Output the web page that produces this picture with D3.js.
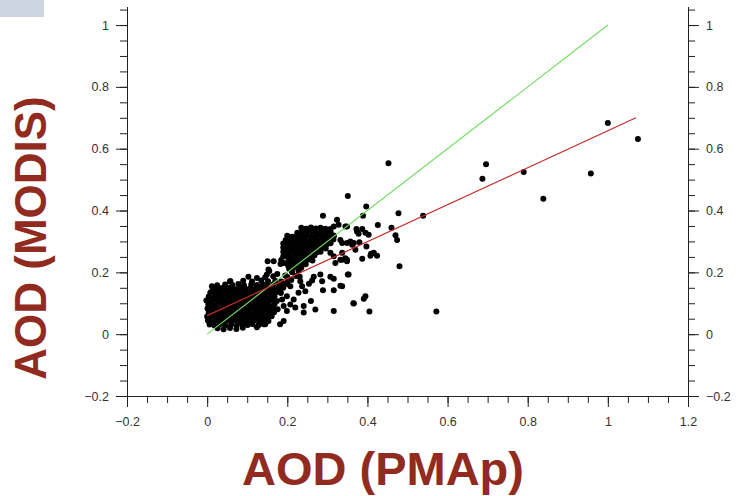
<!DOCTYPE html>
<html>
<head>
<meta charset="utf-8">
<script src="https://cdn.jsdelivr.net/npm/d3@7"></script>
<style>
  body { margin: 0; background: #fff; }
  svg { display: block; }
  .tick text { font-family: "Liberation Sans", Arial, sans-serif; font-size: 12.5px; fill: #333; }
  .axis path, .axis line { stroke: #222; }
  .title { font-family: "Liberation Sans", Arial, sans-serif; font-weight: bold; fill: #922b1f; }
</style>
</head>
<body>
<svg id="chart"></svg>
<script>
const xDomain = [-0.2, 1.2];
const yDomain = [-0.2, 1.06];
const xTicks = [-0.2, 0, 0.2, 0.4, 0.6, 0.8, 1, 1.2];
const yTicks = [-0.2, 0, 0.2, 0.4, 0.6, 0.8, 1];

// 1:1 reference line and the fitted regression line
const oneToOne = [[0, 0], [1, 1]];
const fitLine = [[0, 0.06], [1.07, 0.70]];

// dense low-AOD cloud (PMAp, MODIS)
const lowCloud = [
  [0.026,0.019],[0.041,0.016],[0.057,0.02],[0.073,0.017],[0.089,0.021],[0.124,0.022],
  [0.006,0.031],[0.018,0.028],[0.031,0.032],[0.045,0.029],[0.06,0.031],[0.074,0.028],[0.088,0.032],[0.101,0.03],[0.113,0.033],[0.128,0.029],[0.141,0.032],
  [0.002,0.044],[0.013,0.041],[0.024,0.045],[0.036,0.042],[0.048,0.044],[0.06,0.041],[0.071,0.045],[0.083,0.042],[0.095,0.044],[0.107,0.041],[0.118,0.045],[0.13,0.042],[0.142,0.046],[0.153,0.043],
  [0.0,0.057],[0.011,0.054],[0.022,0.058],[0.034,0.055],[0.046,0.057],[0.057,0.054],[0.069,0.058],[0.08,0.055],[0.092,0.057],[0.104,0.054],[0.115,0.058],[0.127,0.055],[0.139,0.057],[0.151,0.054],[0.161,0.058],
  [0.004,0.07],[0.015,0.067],[0.027,0.071],[0.038,0.068],[0.05,0.07],[0.062,0.067],[0.073,0.071],[0.085,0.068],[0.097,0.07],[0.108,0.067],[0.12,0.071],[0.132,0.068],[0.144,0.07],[0.156,0.067],[0.167,0.071],
  [0.001,0.083],[0.012,0.08],[0.023,0.084],[0.035,0.081],[0.047,0.083],[0.058,0.08],[0.07,0.084],[0.082,0.081],[0.093,0.083],[0.105,0.08],[0.117,0.084],[0.128,0.081],[0.14,0.083],[0.152,0.08],[0.163,0.084],[0.176,0.081],
  [0.003,0.096],[0.015,0.093],[0.026,0.097],[0.038,0.094],[0.05,0.096],[0.061,0.093],[0.073,0.097],[0.085,0.094],[0.096,0.096],[0.108,0.093],[0.12,0.097],[0.131,0.094],[0.143,0.096],[0.155,0.093],[0.168,0.097],
  [-0.002,0.109],[0.011,0.106],[0.023,0.11],[0.034,0.107],[0.046,0.109],[0.058,0.106],[0.069,0.11],[0.081,0.107],[0.093,0.109],[0.104,0.106],[0.116,0.11],[0.128,0.107],[0.139,0.109],[0.151,0.106],[0.162,0.11],[0.174,0.107],
  [0.004,0.122],[0.016,0.119],[0.027,0.123],[0.039,0.12],[0.051,0.122],[0.062,0.119],[0.074,0.123],[0.086,0.12],[0.097,0.122],[0.109,0.119],[0.121,0.123],[0.132,0.12],[0.144,0.122],[0.156,0.119],[0.168,0.123],
  [0.008,0.135],[0.02,0.132],[0.031,0.136],[0.043,0.133],[0.055,0.135],[0.066,0.132],[0.078,0.136],[0.09,0.133],[0.101,0.135],[0.113,0.132],[0.125,0.136],[0.136,0.133],[0.148,0.135],[0.16,0.132],[0.172,0.136],[0.184,0.133],
  [0.014,0.148],[0.026,0.145],[0.037,0.149],[0.049,0.146],[0.061,0.148],[0.072,0.145],[0.084,0.149],[0.096,0.146],[0.107,0.148],[0.119,0.145],[0.131,0.149],[0.142,0.146],[0.154,0.148],[0.166,0.145],[0.178,0.149],
  [0.025,0.158],[0.045,0.161],[0.063,0.159],[0.078,0.162],[0.092,0.158],[0.11,0.161],[0.124,0.159],[0.138,0.162],[0.15,0.158],[0.165,0.161],[0.18,0.159],[0.19,0.163],
  [0.057,0.171],[0.09,0.173],[0.112,0.17],[0.135,0.174],[0.152,0.171],[0.17,0.173],[0.185,0.17],
  [0.103,0.186],[0.145,0.184],[0.165,0.187],[0.2,0.185]
];

// bridge between the two clouds
const bridge = [
  [0.19,0.15],[0.2,0.162],[0.21,0.175],[0.195,0.19],[0.212,0.2],[0.222,0.188],[0.205,0.21],[0.218,0.222],
  [0.2,0.228],[0.185,0.24],[0.19,0.252],[0.183,0.227],[0.228,0.205],[0.235,0.215],[0.175,0.195],[0.166,0.236],
  [0.153,0.209],[0.149,0.193],[0.124,0.182],[0.012,0.155],[0.052,0.15],[0.058,0.171],[0.151,0.236],[0.155,0.204]
];

// second cloud around PMAp 0.2-0.3
const highCloud = [
  [0.235,0.344],[0.247,0.341],[0.259,0.345],[0.271,0.342],[0.283,0.344],[0.295,0.341],
  [0.225,0.328],[0.237,0.332],[0.249,0.329],[0.261,0.331],[0.273,0.328],[0.285,0.332],[0.297,0.329],[0.308,0.331],
  [0.2,0.318],[0.212,0.315],[0.224,0.319],[0.236,0.316],[0.248,0.318],[0.26,0.315],[0.272,0.319],[0.284,0.316],[0.296,0.318],[0.308,0.315],[0.316,0.319],
  [0.196,0.305],[0.208,0.302],[0.22,0.306],[0.232,0.303],[0.244,0.305],[0.256,0.302],[0.268,0.306],[0.28,0.303],[0.292,0.305],[0.304,0.302],[0.315,0.306],
  [0.19,0.293],[0.202,0.29],[0.214,0.294],[0.226,0.291],[0.238,0.293],[0.25,0.29],[0.262,0.294],[0.274,0.291],[0.286,0.293],[0.298,0.29],[0.308,0.294],
  [0.19,0.28],[0.202,0.277],[0.214,0.281],[0.226,0.278],[0.238,0.28],[0.25,0.277],[0.262,0.281],[0.274,0.278],[0.286,0.28],[0.296,0.277],
  [0.19,0.267],[0.202,0.264],[0.214,0.268],[0.226,0.265],[0.238,0.267],[0.25,0.264],[0.262,0.268],[0.274,0.265],[0.283,0.267],
  [0.196,0.254],[0.208,0.251],[0.22,0.255],[0.232,0.252],[0.244,0.254],[0.256,0.251],[0.268,0.255],
  [0.203,0.241],[0.215,0.238],[0.227,0.242],[0.239,0.239],[0.251,0.241],[0.263,0.238],
  [0.21,0.228],[0.222,0.225],[0.234,0.229],[0.246,0.226],[0.215,0.215],[0.23,0.212]
];

// scattered points
const scatter = [
  [0.4525,0.553],[0.696,0.55],[0.687,0.503],[0.79,0.525],[0.839,0.438],[0.9575,0.52],[1.0,0.683],[1.075,0.631],
  [0.539,0.383],[0.572,0.073],[0.48,0.22],
  [0.4775,0.391],[0.46,0.344],[0.47,0.32],[0.474,0.305],[0.397,0.413],[0.389,0.383],[0.426,0.353],[0.405,0.073],
  [0.395,0.123],[0.391,0.115],[0.365,0.1],[0.3725,0.34],[0.378,0.325],[0.395,0.328],[0.403,0.322],[0.38,0.297],
  [0.3975,0.284],[0.387,0.244],[0.409,0.26],[0.416,0.263],[0.424,0.254],[0.37,0.273],[0.351,0.447],[0.349,0.348],
  [0.337,0.295],[0.3575,0.3],[0.362,0.289],[0.337,0.263],[0.345,0.246],[0.337,0.241],[0.349,0.236],[0.351,0.193],
  [0.337,0.155],[0.366,0.099],[0.4075,0.254],
  [0.316,0.179],[0.287,0.171],[0.289,0.142],[0.3325,0.157],[0.316,0.142],[0.262,0.174],[0.254,0.163],[0.2325,0.171],
  [0.237,0.155],[0.245,0.139],[0.228,0.134],[0.259,0.107],[0.27,0.08],[0.316,0.075],[0.241,0.07],[0.199,0.075],
  [0.191,0.043],[0.216,0.1125],[0.2075,0.096],[0.191,0.091],[0.22,0.086],[0.199,0.166],[0.2075,0.155],[0.1825,0.139],
  [0.199,0.123],[0.187,0.1125],[0.145,0.032],[0.182,0.032],[0.241,0.091],
  [0.289,0.383],[0.324,0.37],[0.328,0.354],[0.316,0.348],[0.3075,0.34],[0.2975,0.332],[0.345,0.348],[0.374,0.332],
  [0.387,0.34],[0.316,0.316],[0.3325,0.305],[0.349,0.295],[0.366,0.295],[0.3075,0.263],[0.316,0.252],[0.3325,0.241],
  [0.349,0.241],[0.32,0.23],[0.231,0.186],[0.266,0.186],[0.2825,0.193],[0.3075,0.186],[0.353,0.193],[0.191,0.23],[0.203,0.22]
];

const points = lowCloud.concat(bridge, highCloud, scatter);

const width = 742;
const height = 496;

const svg = d3.select("#chart")
  .attr("width", width)
  .attr("height", height);

svg.append("rect")
  .attr("x", 0).attr("y", 0)
  .attr("width", 44).attr("height", 17)
  .attr("fill", "#cdd5e2");

const x = d3.scaleLinear().domain(xDomain).range([127, 688]);
const y = d3.scaleLinear().domain(yDomain).range([396, 6.5]);

const fmt = d3.format("~g");
const minorX = d3.range(-0.2, 1.2001, 0.05);
const minorY = d3.range(-0.2, 1.0501, 0.05);

// bottom axis
svg.append("g").attr("class", "axis")
  .attr("transform", `translate(0,${y(-0.2)})`)
  .call(d3.axisBottom(x).tickValues(minorX).tickSize(7).tickSizeOuter(0).tickFormat(""));
svg.append("g").attr("class", "axis")
  .attr("transform", `translate(0,${y(-0.2)})`)
  .call(d3.axisBottom(x).tickValues(xTicks).tickSize(11).tickSizeOuter(0).tickPadding(10).tickFormat(fmt));

// left axis
svg.append("g").attr("class", "axis")
  .attr("transform", `translate(${x(-0.2)},0)`)
  .call(d3.axisLeft(y).tickValues(minorY).tickSize(7).tickSizeOuter(0).tickFormat(""));
svg.append("g").attr("class", "axis")
  .attr("transform", `translate(${x(-0.2)},0)`)
  .call(d3.axisLeft(y).tickValues(yTicks).tickSize(11).tickSizeOuter(0).tickPadding(7).tickFormat(fmt));

// right axis
svg.append("g").attr("class", "axis")
  .attr("transform", `translate(${x(1.2)},0)`)
  .call(d3.axisRight(y).tickValues(minorY).tickSize(7).tickSizeOuter(0).tickFormat(""));
svg.append("g").attr("class", "axis")
  .attr("transform", `translate(${x(1.2)},0)`)
  .call(d3.axisRight(y).tickValues(yTicks).tickSize(11).tickSizeOuter(0).tickPadding(7).tickFormat(fmt));

// points
svg.append("g")
  .selectAll("circle")
  .data(points)
  .enter()
  .append("circle")
  .attr("cx", d => x(d[0]))
  .attr("cy", d => y(d[1]))
  .attr("r", 3)
  .attr("fill", "#000");

const line = d3.line().x(d => x(d[0])).y(d => y(d[1]));

svg.append("path")
  .datum(oneToOne)
  .attr("d", line)
  .attr("fill", "none")
  .attr("stroke", "#6fdc5f")
  .attr("stroke-width", 1.1);

svg.append("path")
  .datum(fitLine)
  .attr("d", line)
  .attr("fill", "none")
  .attr("stroke", "#c42a2a")
  .attr("stroke-width", 1.2);

// axis titles
svg.append("text")
  .attr("class", "title")
  .attr("x", 383)
  .attr("y", 485)
  .attr("text-anchor", "middle")
  .style("font-size", "47px")
  .text("AOD (PMAp)");

svg.append("text")
  .attr("class", "title")
  .attr("transform", "translate(46,238) rotate(-90)")
  .attr("text-anchor", "middle")
  .style("font-size", "44px")
  .text("AOD (MODIS)");
</script>
</body>
</html>
